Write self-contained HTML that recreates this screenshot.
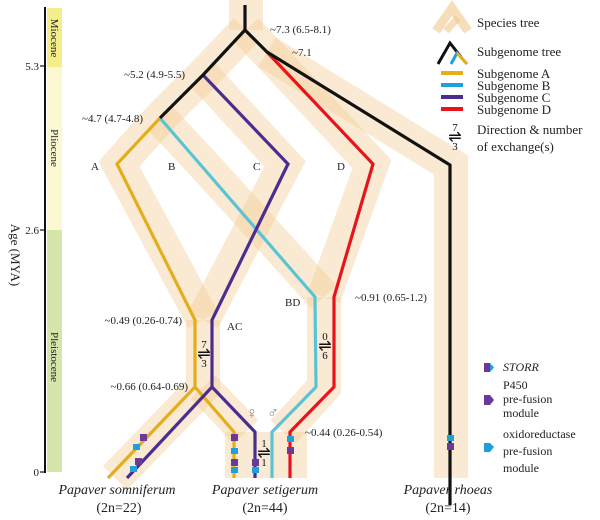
<!DOCTYPE html>
<html><head><meta charset="utf-8"><style>
html,body{margin:0;padding:0;background:#fff}
svg{display:block;font-family:"Liberation Serif",serif}
</style></head><body>
<svg width="600" height="520" viewBox="0 0 600 520" xmlns="http://www.w3.org/2000/svg">
<rect x="47" y="8" width="15" height="59" fill="#f3ee8a"/>
<rect x="47" y="67" width="15" height="163" fill="#fbf8d2"/>
<rect x="47" y="230" width="15" height="242" fill="#d6e5aa"/>
<line x1="45" y1="7" x2="45" y2="473" stroke="#111" stroke-width="2"/>
<g stroke="#111" stroke-width="1.2"><line x1="40" y1="66" x2="45" y2="66"/><line x1="40" y1="230" x2="45" y2="230"/><line x1="40" y1="472" x2="45" y2="472"/></g>
<g font-size="11" fill="#222" text-anchor="end"><text x="39" y="70">5.3</text><text x="39" y="234">2.6</text><text x="39" y="476">0</text></g>
<g font-size="11" fill="#222" text-anchor="middle">
<text transform="translate(51,38) rotate(90)">Miocene</text>
<text transform="translate(51,148) rotate(90)">Pliocene</text>
<text transform="translate(51,357) rotate(90)">Pleistocene</text>
</g>
<text transform="translate(11,255) rotate(90)" font-size="13" text-anchor="middle" fill="#222">Age (MYA)</text>

<g fill="none" stroke="#f2c88c" stroke-opacity="0.38" stroke-width="34" stroke-linejoin="miter">
<path d="M246,0 L246,30"/>
<path d="M246,30 L203,75 L160,118 L119,164 L203,320"/>
<path d="M160,118 L203,164 L324,297"/>
<path d="M203,75 L285,164 L203,320"/>
<path d="M246,30 L267,52 L372,164 L324,297"/>
<path d="M267,52 L451,165 L451,478"/>
<path d="M203,320 L203,387 L115,478"/>
<path d="M203,387 L246,432"/>
<path d="M324,297 L324,387 L283,432"/>
</g>
<rect x="225" y="432" width="82" height="46" fill="#f2c88c" fill-opacity="0.38"/>

<g fill="none" stroke-width="3.2" stroke-linejoin="miter">
<path d="M160,118 L117,164 L195,320 L195,387 L108,478" stroke="#e3ad1c"/>
<path d="M195,387 L234,432 L234,478" stroke="#e3ad1c"/>
<path d="M160,118 L315,297 L316,387 L272,432 L272,478" stroke="#5bc4d4"/>
<path d="M203,75 L288,164 L212,320 L212,387 L127,478" stroke="#4b2d8f"/>
<path d="M212,387 L255,432 L255,478" stroke="#4b2d8f"/>
<path d="M267,52 L373,164 L334,297 L334,387 L290,432 L290,478" stroke="#e8141a"/>
<path d="M245,5 L245,30 L203,75 L160,118 M245,30 L267,52 L450,165 L450,505" stroke="#111"/>
</g>

<g>
<g fill="#6b3a98"><rect x="140" y="434" width="7" height="7"/><rect x="135" y="458" width="7" height="7"/>
<rect x="231" y="434" width="7" height="7"/><rect x="231" y="459" width="7" height="7"/><rect x="252" y="459" width="7" height="7"/>
<rect x="287" y="447" width="7" height="7"/><rect x="447" y="443" width="7" height="7"/></g>
<g fill="#1ea0dc"><rect x="133" y="444" width="7" height="6"/><rect x="130" y="466" width="7" height="6"/>
<rect x="231" y="448" width="7" height="6"/><rect x="231" y="467" width="7" height="6"/><rect x="252" y="467" width="7" height="6"/>
<rect x="287" y="436" width="7" height="6"/><rect x="447" y="435" width="7" height="6"/></g>
</g>

<g font-size="11" fill="#222">
<text x="270" y="33">~7.3 (6.5-8.1)</text>
<text x="292" y="56">~7.1</text>
<text x="185" y="78" text-anchor="end">~5.2 (4.9-5.5)</text>
<text x="143" y="122" text-anchor="end">~4.7 (4.7-4.8)</text>
<text x="91" y="170">A</text><text x="168" y="170">B</text><text x="253" y="170">C</text><text x="337" y="170">D</text>
<text x="285" y="306">BD</text>
<text x="355" y="301">~0.91 (0.65-1.2)</text>
<text x="182" y="324" text-anchor="end">~0.49 (0.26-0.74)</text>
<text x="227" y="330">AC</text>
<text x="188" y="390" text-anchor="end">~0.66 (0.64-0.69)</text>
<text x="305" y="436">~0.44 (0.26-0.54)</text>
</g>
<g font-size="16" fill="#888"><text x="246" y="418">♀</text><text x="267" y="418">♂</text></g>
<g font-size="11" fill="#111" text-anchor="middle">
<text x="204" y="348">7</text><text x="204" y="359" font-size="16">⇌</text><text x="204" y="367">3</text>
<text x="325" y="340">0</text><text x="325" y="351" font-size="16">⇌</text><text x="325" y="359">6</text>
<text x="264" y="447">1</text><text x="264" y="458" font-size="16">⇌</text><text x="264" y="466">1</text>
<text x="455" y="131">7</text><text x="455" y="142" font-size="16">⇌</text><text x="455" y="150">3</text>
</g>
<g font-size="14" fill="#222" text-anchor="middle">
<text x="117" y="494" font-style="italic">Papaver somniferum</text><text x="119" y="512">(2n=22)</text>
<text x="265" y="494" font-style="italic">Papaver setigerum</text><text x="265" y="512">(2n=44)</text>
<text x="448" y="494" font-style="italic">Papaver rhoeas</text><text x="448" y="512">(2n=14)</text>
</g>

<g>
<path d="M436,31 L452,8 L468,31" fill="none" stroke="#f2c88c" stroke-opacity="0.6" stroke-width="9"/>
<path d="M446,31 L458,18" fill="none" stroke="#f2c88c" stroke-opacity="0.6" stroke-width="7"/>
<path d="M438,64 L450,43 L461,57" fill="none" stroke="#111" stroke-width="3"/>
<path d="M451,64 L457,53 L467,64" fill="none" stroke="#1ea0dc" stroke-width="3"/>
<path d="M457,53 L467,64" fill="none" stroke="#e3ad1c" stroke-width="3"/>
<rect x="441" y="71" width="22" height="4" fill="#e3ad1c"/>
<rect x="441" y="83" width="22" height="4" fill="#1ea0dc"/>
<rect x="441" y="95" width="22" height="4" fill="#4b2d8f"/>
<rect x="441" y="107" width="22" height="4" fill="#e8141a"/>
</g>
<g font-size="13" fill="#222">
<text x="477" y="27">Species tree</text>
<text x="477" y="56">Subgenome tree</text>
<text x="477" y="78">Subgenome A</text>
<text x="477" y="90">Subgenome B</text>
<text x="477" y="102">Subgenome C</text>
<text x="477" y="114">Subgenome D</text>
<text x="477" y="134">Direction &amp; number</text>
<text x="477" y="151">of exchange(s)</text>
</g>
<rect x="484" y="363" width="6" height="9" fill="#6b3a98"/><path d="M490,363 L494,367.5 L490,372 Z" fill="#1ea0dc"/>
<path d="M484,395 L490,395 L494,400 L490,405 L484,405 Z" fill="#6b3a98"/>
<path d="M484,443 L490,443 L494,447 L490,452 L484,452 Z" fill="#1ea0dc"/>
<g font-size="12" fill="#222">
<text x="503" y="371" font-style="italic">STORR</text>
<text x="503" y="389">P450</text><text x="503" y="403">pre-fusion</text><text x="503" y="417">module</text>
<text x="503" y="438">oxidoreductase</text><text x="503" y="455">pre-fusion</text><text x="503" y="472">module</text>
</g>
</svg>
</body></html>
